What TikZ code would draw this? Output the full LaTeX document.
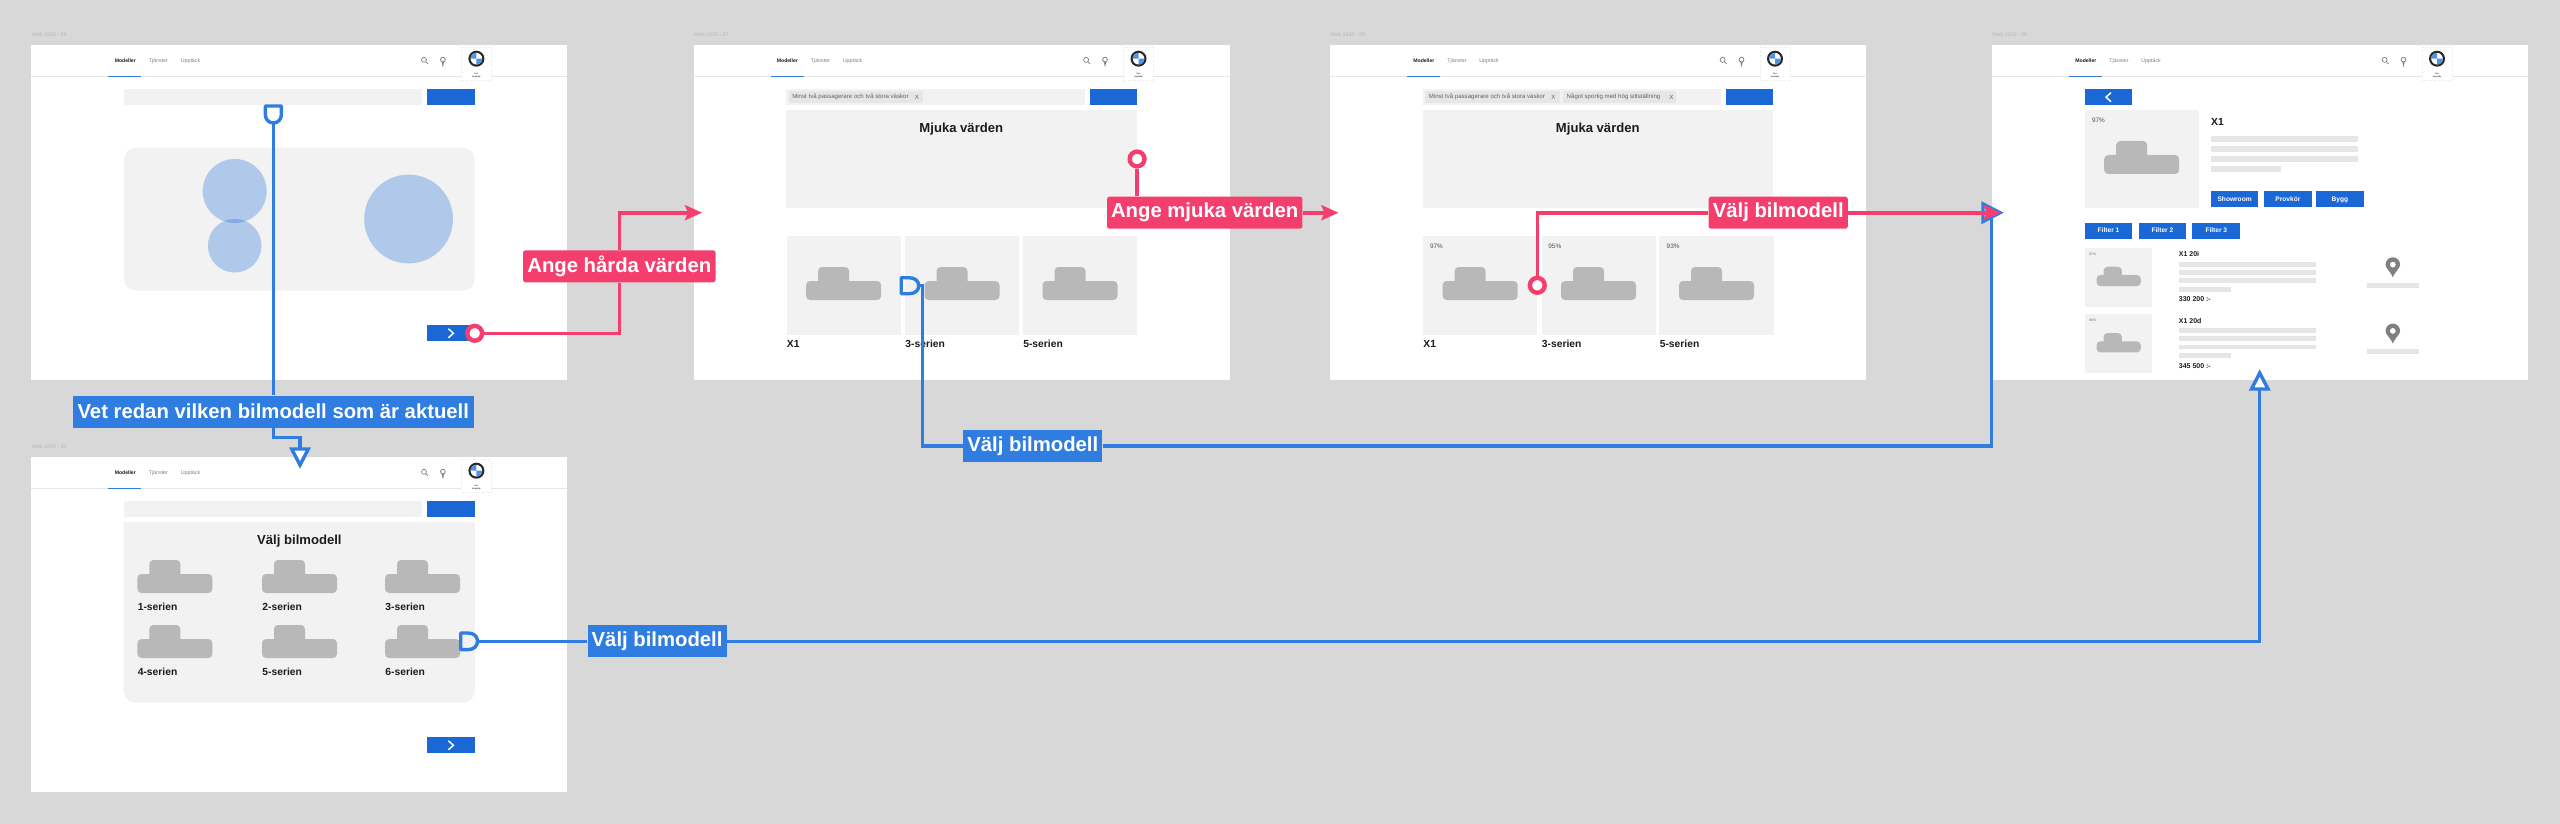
\documentclass[tikz,border=0pt]{standalone}
\usepackage{fontspec}
\setmainfont{Liberation Sans}
\usetikzlibrary{arrows.meta,calc}
\definecolor{bgc}{HTML}{D8D8D8}
\definecolor{panelc}{HTML}{F2F2F2}
\definecolor{chipc}{HTML}{E6E6E6}
\definecolor{btnc}{HTML}{1A67D6}
\definecolor{carc}{HTML}{B8B8B8}
\definecolor{pinkc}{HTML}{F43F6E}
\definecolor{bluec}{HTML}{2F7DE1}
\definecolor{circc}{HTML}{1A67D6}
\definecolor{logoc}{HTML}{4F93E6}
\definecolor{inkc}{HTML}{1C1C1C}
\tikzset{
  x=0.5pt,y=-0.5pt,
  capt/.style={inner sep=0,anchor=west,text=black!28,font=\fontsize{2.65pt}{3pt}\selectfont},
  tabon/.style={inner sep=0,anchor=west,text=inkc,font=\fontsize{2.55pt}{3pt}\selectfont\bfseries},
  taboff/.style={inner sep=0,anchor=west,text=black!50,font=\fontsize{2.65pt}{3pt}\selectfont},
  chiptxt/.style={inner sep=0,anchor=west,text=black!62,font=\fontsize{3.05pt}{3.5pt}\selectfont},
  title/.style={inner sep=0,text=inkc,font=\fontsize{6.55pt}{8pt}\selectfont\bfseries},
  carname/.style={inner sep=0,anchor=west,text=inkc,font=\fontsize{5.15pt}{6pt}\selectfont\bfseries},
  pct/.style={inner sep=0,anchor=west,text=black!70,font=\fontsize{3.2pt}{4pt}\selectfont},
  tinypct/.style={inner sep=0,anchor=west,text=black!60,font=\fontsize{1.7pt}{2pt}\selectfont},
  smallbold/.style={inner sep=0,anchor=west,text=inkc,font=\fontsize{3.5pt}{4pt}\selectfont\bfseries},
  btnlabel/.style={inner sep=0,text=white,text height=2.4pt,text depth=0.7pt,font=\fontsize{3.3pt}{4pt}\selectfont\bfseries},
  pinklab/.style={fill=pinkc,rounded corners=1.2pt,text=white,inner sep=0,minimum height=16pt,font=\fontsize{10.15pt}{12pt}\selectfont\bfseries},
  bluelab/.style={fill=bluec,text=white,inner sep=0,minimum height=16pt,font=\fontsize{10.15pt}{12pt}\selectfont\bfseries},
  pinkline/.style={draw=pinkc,line width=1.8pt},
  blueline/.style={draw=bluec,line width=1.7pt},
  pinkarrow/.style={pinkline,-{Stealth[length=8.5pt,width=7.5pt,inset=1.5pt]}},
  startdot/.style={circle,draw=pinkc,line width=2.2pt,fill=white,inner sep=0,minimum size=7.4pt},
  hollowtri/.style={draw=bluec,line width=1.7pt,fill=white,line join=miter},
}
\newcommand{\wfCar}[3]{% left, top, scale
  \begin{scope}[shift={(#1,#2)},scale=#3]
    \fill[carc,rounded corners=2pt] (12,0) rectangle (43,22);
    \fill[carc,rounded corners=2pt] (0,14) rectangle (75,33);
  \end{scope}}
\newcommand{\wfFrame}[4]{% prefix, x, y, number
  \fill[white] (#2,#3) rectangle ++(536,335);
  \node[capt] (#1-cap) at (#2,#3-10.7) {Web 1920 - #4};
  \begin{scope}[shift={(#2,#3)}]
    \draw[chipc,line width=0.3pt] (0,31.5) -- (536,31.5);
    \fill[bluec] (77,30.6) rectangle (110,32.2);
    \node[tabon]  (#1-t1) at (83,15.7) {Modeller};
    \node[taboff] (#1-t2) at (117,15.7) {Tjänster};
    \node[taboff] (#1-t3) at (149,15.7) {Upptäck};
    % search icon
    \draw[black!50,line width=0.35pt] (392.6,14.8) circle[radius=1.25pt] (394.4,16.6) -- (396.6,19);
    % header pin
    \draw[black!50,line width=0.4pt] (411.5,14.6) circle[radius=1.2pt] (410.8,17) -- (411.5,20.5) -- (412.2,17);
    % logo box
    \fill[white] (430,2.3) rectangle (460,35.7);
    \draw[chipc,line width=0.25pt,densely dotted] (430,2.3) rectangle (460,35.7);
    \fill[black!85] (445,13.7) circle[radius=4pt];
    \fill[white] (445,13.7) circle[radius=2.9pt];
    \fill[logoc] (445,13.7) -- ++(-2.9pt,0) arc[start angle=180,end angle=90,radius=2.9pt] -- cycle;
    \fill[logoc] (445,13.7) -- ++(2.9pt,0) arc[start angle=0,end angle=-90,radius=2.9pt] -- cycle;
    \node[inner sep=0,align=center,text=black,font=\fontsize{1.05pt}{1.55pt}\selectfont] (#1-slog) at (445,30.5) {Ren\\körglädje};
  \end{scope}}
\newcommand{\wfSearch}{%
  \fill[panelc] (92.7,44) rectangle (391,60.3);
  \fill[btnc] (396,44) rectangle (443.3,60.3);}
\newcommand{\wfNext}{%
  \fill[btnc] (396,280.3) rectangle (443.3,296.3);
  \draw[white,line width=0.75pt] (417,283.8) -- (422,288.3) -- (417,292.8);}
\newcommand{\wfCards}[1]{%
  \fill[panelc] (92.7,65) rectangle (443.3,163.3);
  \node[title] (#1-mj) at (267.8,84) {Mjuka värden};
  \fill[panelc] (93,191) rectangle (207,289.7);
  \fill[panelc] (211.5,191) rectangle (325.8,289.7);
  \fill[panelc] (329.4,191) rectangle (443.7,289.7);
  \wfCar{112.6}{222}{1}\wfCar{231}{222}{1}\wfCar{349}{222}{1}
  \node[carname] (#1-x1) at (93,298.7) {X1};
  \node[carname] (#1-s3) at (211.5,298.7) {3-serien};
  \node[carname] (#1-s5) at (329.4,298.7) {5-serien};}
\newcommand{\wfBigPin}[2]{%
  \begin{scope}[shift={(#1,#2)}]
    \fill[black!50,even odd rule] (0,20) .. controls (-3,13) and (-7.3,11) .. (-7.3,7.3) .. controls (-7.3,3.3) and (-4,0) .. (0,0) .. controls (4,0) and (7.3,3.3) .. (7.3,7.3) .. controls (7.3,11) and (3,13) .. (0,20) -- cycle (0,7.3) circle[radius=1.5pt];
  \end{scope}}
\newcommand{\wfListItem}[5]{% prefix, y offset, pct, name, price
  \begin{scope}[shift={(0,#2)}]
    \fill[panelc] (92.7,203) rectangle (160.4,261.7);
    \node[tinypct] (#1-p) at (96.8,209) {#3};
    \wfCar{104.5}{221.7}{0.59}
    \node[smallbold] (#1-n) at (186.5,209.3) {#4};
    \fill[chipc] (186.5,217) rectangle (324,222);
    \fill[chipc] (186.5,225) rectangle (324,230);
    \fill[chipc] (186.5,233.3) rectangle (324,238);
    \fill[chipc] (186.5,241.7) rectangle (239,246.7);
    \node[smallbold] (#1-r) at (186.5,254.3) {#5};
    \wfBigPin{400.8}{212.3}
    \fill[chipc] (374.7,238) rectangle (427.3,243);
  \end{scope}}
\begin{document}
\begin{tikzpicture}
\fill[bgc] (0,0) rectangle (2560,824);
\useasboundingbox (0,0) rectangle (2560,824);

% ---------- frame 1
\wfFrame{a}{31.4}{45}{26}
\begin{scope}[shift={(31.4,45)}]
  \wfSearch
  \fill[panelc,rounded corners=6pt] (92.7,102.7) rectangle (443.3,245.7);
  \fill[circc,opacity=.3] (203.3,146) circle[radius=16pt];
  \fill[circc,opacity=.3] (203.3,200.7) circle[radius=13.4pt];
  \fill[circc,opacity=.3] (377.2,174) circle[radius=22.2pt];
  \wfNext
\end{scope}

% ---------- frame 2
\wfFrame{b}{693.5}{45}{27}
\begin{scope}[shift={(693.5,45)}]
  \wfSearch
  \fill[chipc] (95,45.7) rectangle (229.4,58.3);
  \node[chiptxt] (b-c1) at (98.4,52) {Minst två passagerare och två stora väskor};
  \node[chiptxt] (b-c1x) at (221,52) {X};
  \wfCards{b}
\end{scope}

% ---------- frame 3
\wfFrame{c}{1330}{45}{28}
\begin{scope}[shift={(1330,45)}]
  \wfSearch
  \fill[chipc] (95,45.7) rectangle (230,58.3);
  \node[chiptxt] (c-c1) at (98.4,52) {Minst två passagerare och två stora väskor};
  \node[chiptxt] (c-c1x) at (221,52) {X};
  \fill[chipc] (233,45.7) rectangle (346,58.3);
  \node[chiptxt] (c-c2) at (236.3,52) {Något sportig med hög sittställning};
  \node[chiptxt] (c-c2x) at (339,52) {X};
  \wfCards{c}
  \node[pct] (c-p1) at (99.6,201) {97\%};
  \node[pct] (c-p2) at (218,201) {95\%};
  \node[pct] (c-p3) at (336.3,201) {93\%};
\end{scope}

% ---------- frame 4
\wfFrame{d}{1992}{45}{29}
\begin{scope}[shift={(1992,45)}]
  \node[fill=btnc,inner sep=0,minimum width=23.85pt,minimum height=8.15pt] (d-back) at (116.5,52.15) {};
  \draw[white,line width=0.75pt] (119,47.6) -- (114,52.15) -- (119,56.7);
  \fill[panelc] (92.7,65) rectangle (207.3,163.3);
  \node[pct] (d-pct) at (99.6,75) {97\%};
  \wfCar{112.2}{96}{1}
  \node[carname] (d-x1) at (218.8,76.7) {X1};
  \fill[chipc] (218.8,91) rectangle (365.7,97);
  \fill[chipc] (218.8,100.7) rectangle (365.7,107);
  \fill[chipc] (218.8,110.7) rectangle (365.7,117);
  \fill[chipc] (218.8,120.7) rectangle (289,126.7);
  \node[fill=btnc,btnlabel,minimum width=23.85pt,minimum height=8pt] (d-b1) at (242.6,154.3) {Showroom};
  \node[fill=btnc,btnlabel,minimum width=23.7pt,minimum height=8pt] (d-b2) at (295.9,154.3) {Provkör};
  \node[fill=btnc,btnlabel,minimum width=23.9pt,minimum height=8pt] (d-b3) at (347.9,154.3) {Bygg};
  \node[fill=btnc,btnlabel,minimum width=23.85pt,minimum height=8pt] (d-f1) at (116.5,185.7) {Filter 1};
  \node[fill=btnc,btnlabel,minimum width=23.9pt,minimum height=8pt] (d-f2) at (170.4,185.7) {Filter 2};
  \node[fill=btnc,btnlabel,minimum width=23.9pt,minimum height=8pt] (d-f3) at (224.3,185.7) {Filter 3};
  \wfListItem{d-l1}{0}{97\%}{X1 20i}{330 200 :-}
  \wfListItem{d-l2}{66.3}{96\%}{X1 20d}{345 500 :-}
\end{scope}

% ---------- frame 5
\wfFrame{e}{31.4}{457}{30}
\begin{scope}[shift={(31.4,457)}]
  \wfSearch
  \fill[panelc,rounded corners=6pt] (92.3,100) -- (92.3,245.7) -- (443.4,245.7) -- (443.4,100) [sharp corners] -- (443.4,65) -- (92.3,65) -- cycle;
  \node[title] (e-t) at (268,84) {Välj bilmodell};
  \wfCar{106}{103}{1}\wfCar{230.6}{103}{1}\wfCar{353.6}{103}{1}
  \wfCar{106}{168}{1}\wfCar{230.6}{168}{1}\wfCar{353.6}{168}{1}
  \node[carname] (e-1) at (106,150) {1-serien};
  \node[carname] (e-2) at (230.6,150) {2-serien};
  \node[carname] (e-3) at (353.6,150) {3-serien};
  \node[carname] (e-4) at (106,215) {4-serien};
  \node[carname] (e-5) at (230.6,215) {5-serien};
  \node[carname] (e-6) at (353.6,215) {6-serien};
  \wfNext
\end{scope}

% ---------- labels
\node[bluelab,minimum width=200.2pt] (vet) at (273.3,411.5) {Vet redan vilken bilmodell som är aktuell};
\node[bluelab,minimum width=69.5pt] (valjB) at (1032.8,445.8) {Välj bilmodell};
\node[bluelab,minimum width=69.4pt] (valjC) at (657.1,641.3) {Välj bilmodell};
\node[pinklab,minimum width=96.2pt] (hard) at (619.3,266.3) {Ange hårda värden};
\node[pinklab,minimum width=97.7pt] (mjuk) at (1204.7,212.7) {Ange mjuka värden};
\node[pinklab,minimum width=69.6pt] (valjP) at (1778.2,212.7) {Välj bilmodell};

% ---------- blue connectors
\coordinate (shieldB) at (273.4,123);
\coordinate (shieldL) at (265.3,106);
\coordinate (shieldR) at (281.4,106);
\draw[blueline,line join=round] (shieldL) -- (265.3,114.5) .. controls (265.3,120) and (269.5,123) .. (shieldB) .. controls (277.3,123) and (281.4,120) .. (281.4,114.5) -- (shieldR) -- cycle;
\draw[blueline] (shieldB) -- (vet.north -| shieldB);
\coordinate (bend1) at (273.4,437.7);
\coordinate (tri1) at (300,449);
\draw[blueline] (vet.south -| bend1) -- (bend1) -| (tri1);
\draw[hollowtri] (291.7,449) -- (308.3,449) -- (300,465) -- cycle;

\coordinate (dA) at (918.7,285.7);
\draw[blueline,line join=round] (901.2,277.7) -- (909,277.7) .. controls (915,277.7) and (918.7,281) .. (dA) .. controls (918.7,290.5) and (915,293.7) .. (909,293.7) -- (901.2,293.7) -- cycle;
\coordinate (bendB1) at (922.7,445.8);
\coordinate (tipB) at (1991.7,212.7);
\draw[blueline] (dA) -- (922.7,285.7) -- (bendB1) -- (valjB.west);
\draw[blueline] (valjB.east) -- (1991.7,445.8) -- (tipB);
\draw[hollowtri,fill=none] (1983,204) -- (1983,221.5) -- (2000,212.7) -- cycle;

\coordinate (dC) at (477.5,641.3);
\draw[blueline,line join=round] (460.7,633) -- (468,633) .. controls (474,633) and (477.5,636.5) .. (dC) .. controls (477.5,646) and (474,649.6) .. (468,649.6) -- (460.7,649.6) -- cycle;
\draw[blueline] (dC) -- (valjC.west);
\coordinate (tipC) at (2259.6,389);
\draw[blueline] (valjC.east) -| (tipC);
\draw[hollowtri] (2251.5,389) -- (2268,389) -- (2259.7,373) -- cycle;

% ---------- pink connectors
\node[startdot] (dotA) at (474.7,333.3) {};
\node[startdot] (dotB) at (1137.1,159) {};
\node[startdot] (dotC) at (1537.3,285.3) {};
\coordinate (tipA) at (702,212.7);
\coordinate (tipBp) at (1338.4,212.7);
\coordinate (tipCp) at (2000.8,212.7);
\draw[pinkline] (dotA.east) -| (hard.south);
\draw[pinkarrow] (hard.north) |- (tipA);
\draw[pinkline] (dotB.south) -- (dotB.south |- mjuk.north);
\draw[pinkarrow] (mjuk.east) -- (tipBp);
\draw[pinkline] (dotC.north) |- (valjP.west);
\draw[pinkarrow] (valjP.east) -- (tipCp);
\end{tikzpicture}
\end{document}
